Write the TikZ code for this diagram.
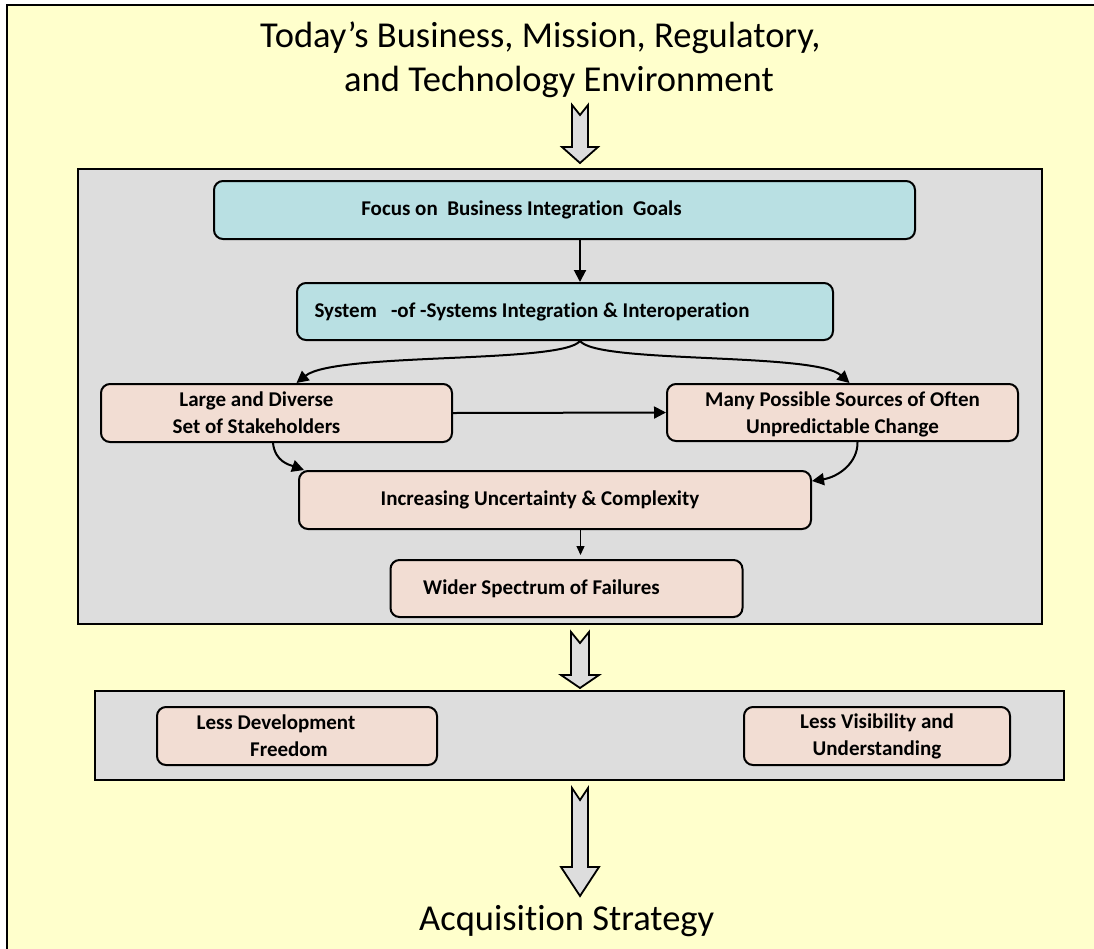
\documentclass[tikz,border=0pt]{standalone}
\usepackage{fontspec}
\setmainfont{Carlito}[Ligatures=NoCommon]
\usetikzlibrary{arrows.meta,calc}
\definecolor{bgyellow}{HTML}{FFFFCC}
\definecolor{boxgray}{HTML}{DDDDDD}
\definecolor{cyanbox}{HTML}{B9E0E3}
\definecolor{pinkbox}{HTML}{F2DDD3}
\tikzset{
  frame/.style={draw=black,line width=2pt,fill=bgyellow},
  graybox/.style={draw=black,line width=2pt,fill=boxgray,inner sep=0pt},
  rbox/.style={draw=black,line width=2pt,rounded corners=9pt,inner sep=0pt,
    font=\fontsize{21}{27}\selectfont\bfseries,align=center},
  cbox/.style={rbox,fill=cyanbox},
  pbox/.style={rbox,fill=pinkbox},
  conn/.style={draw=black,line width=2pt,-{Triangle[length=12pt,width=12pt]}},
  thinconn/.style={draw=black,line width=1.3pt,-{Triangle[length=9pt,width=8pt]}},
  bigtext/.style={font=\fontsize{36.5}{44}\selectfont,inner sep=0pt,anchor=base west},
  blockarrow/.style={draw=black,line width=1.8pt,fill=boxgray,line join=miter},
}
\begin{document}
\begin{tikzpicture}[x=1pt,y=-1pt]
\useasboundingbox (0,0) rectangle (1094,948);
\clip (0,0) rectangle (1094,948);
\draw[frame] (7,5) rectangle (1110,965);

% containers
\node[graybox, minimum width=964pt, minimum height=455pt] (g1) at (560,396.5) {};
\node[graybox, minimum width=969pt, minimum height=89pt] (g2) at (579.5,735.5) {};

% titles
\node[bigtext] (title1) at (260,47.3) {Today’s Business, Mission, Regulatory,};
\node[bigtext] (title2) at (344,91.7) {and Technology Environment};
\node[bigtext] (acq) at (419,930) {Acquisition Strategy};

% block arrows
\draw[blockarrow] (572,105) -- (580,115) -- (588,105) -- (588,147) -- (598,147)
  -- (580,163) -- (562,147) -- (572,147) -- cycle;
\draw[blockarrow] (571,632) -- (580,643) -- (589,632) -- (589,675) -- (599,675)
  -- (580,688) -- (561,675) -- (571,675) -- cycle;
\draw[blockarrow] (572,788) -- (580,800) -- (588,788) -- (588,867) -- (599,867)
  -- (580,896) -- (561,867) -- (572,867) -- cycle;

% boxes
\node[cbox, minimum width=701pt, minimum height=58pt] (focus) at (564.5,210)
  {Focus on\ \ Business Integration\ \ Goals\hspace*{86pt}};
\node[cbox, minimum width=536pt, minimum height=57pt] (sys) at (565,311.5)
  {System\ \ \ -of -Systems Integration \& Interoperation\hspace*{66pt}};
\node[pbox, minimum width=351pt, minimum height=58pt] (large) at (276.5,413)
  {Large and Diverse\hspace*{40pt}\\Set of Stakeholders\hspace*{40pt}};
\node[pbox, minimum width=351pt, minimum height=57pt] (many) at (842.5,412.5)
  {\strut Many Possible Sources of Often\\Unpredictable Change};
\node[pbox, minimum width=512pt, minimum height=58pt] (inc) at (555,500)
  {Increasing Uncertainty \& Complexity\hspace*{30pt}};
\node[pbox, minimum width=352pt, minimum height=57pt] (wider) at (566.5,588.5)
  {Wider Spectrum of Failures\hspace*{50pt}};
\node[pbox, minimum width=280pt, minimum height=58pt] (lessdev) at (297,736)
  {Less Development\hspace*{42pt}\\Freedom\hspace*{16pt}};
\node[pbox, minimum width=266pt, minimum height=58pt] (lessvis) at (877,736)
  {Less Visibility and\\Understanding};

% connectors
\draw[conn] ([xshift=15.5pt]focus.south) -- ([xshift=15pt]sys.north);
\draw[conn] ([xshift=15pt]sys.south) .. controls (562,364) and (335,352) .. ([xshift=20pt]large.north);
\draw[conn] ([xshift=15pt]sys.south) .. controls (598,364) and (815,352) .. ([xshift=7pt]many.north);
\draw[conn] (large.east) -- (many.west);
\draw[conn] ([xshift=-3.5pt]large.south) .. controls (275,462) and (290,465) .. ([xshift=6pt]inc.north west);
\draw[conn] ([xshift=15pt]many.south) .. controls (858,463) and (838,477) .. ([yshift=-11pt]inc.north east);
\draw[thinconn, shorten >=4pt] ([xshift=25.5pt]inc.south) -- ([xshift=14pt]wider.north);
\end{tikzpicture}
\end{document}
